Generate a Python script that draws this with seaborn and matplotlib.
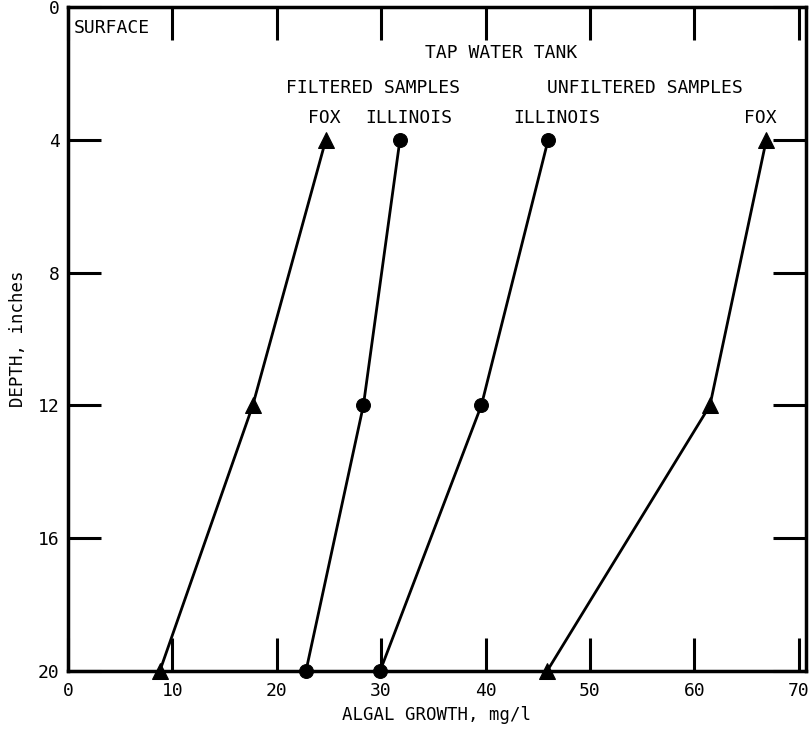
import matplotlib
matplotlib.use("Agg")
import matplotlib.pyplot as plt
import seaborn as sns
import pandas as pd

# Depth below the surface (inches) at which samples were taken
depths = [4, 12, 20]

# Algal growth (mg/l) per sample series
filtered_fox = [24.7, 17.7, 8.8]
filtered_illinois = [31.8, 28.3, 22.8]
unfiltered_illinois = [46.0, 39.6, 29.9]
unfiltered_fox = [66.9, 61.5, 45.9]

series_names = ["Filtered Fox", "Filtered Illinois", "Unfiltered Illinois", "Unfiltered Fox"]
series_values = [filtered_fox, filtered_illinois, unfiltered_illinois, unfiltered_fox]
series_markers = ["^", "o", "o", "^"]

x_ticks = [0, 10, 20, 30, 40, 50, 60, 70]
y_ticks = [0, 4, 8, 12, 16, 20]

sns.set_theme(style="white")
plt.rcParams["font.family"] = ["DejaVu Sans Mono"]

fig = plt.figure(figsize=(8.12, 7.40), dpi=100)
ax = fig.add_axes([0.0837, 0.0932, 0.9089, 0.8973])

rows = []
for name, vals in zip(series_names, series_values):
    for d, v in zip(depths, vals):
        rows.append({"series": name, "depth": d, "growth": v})
df = pd.DataFrame(rows)

for name, mk in zip(series_names, series_markers):
    sub = df[df["series"] == name]
    sns.lineplot(data=sub, x="growth", y="depth", sort=False, ax=ax,
                 color="black", linewidth=2.0, marker=mk,
                 markersize=12 if mk == "^" else 10,
                 markeredgecolor="black", markerfacecolor="black",
                 clip_on=False, zorder=5)

ax.set_xlim(0, 70.7)
ax.set_ylim(20, 0)
ax.set_xticks(x_ticks)
ax.set_yticks(y_ticks)

for s in ax.spines.values():
    s.set_color("black")
    s.set_linewidth(2.5)

ax.tick_params(axis="both", which="both", direction="in", length=24, width=2.2,
               color="black", labelsize=13, labelcolor="black",
               top=True, right=True, bottom=True, left=True)
ax.tick_params(axis="x", pad=8)
ax.tick_params(axis="y", pad=6)

ax.set_xlabel("ALGAL GROWTH, mg/l", fontsize=12.5, color="black", labelpad=4)
ax.set_ylabel("DEPTH, inches", fontsize=12.5, color="black", labelpad=8)

txt = dict(fontsize=13, color="black", va="center")
ax.text(0.6, 0.63, "SURFACE", ha="left", **txt)
ax.text(41.5, 1.38, "TAP WATER TANK", ha="center", **txt)
ax.text(29.2, 2.44, "FILTERED SAMPLES", ha="center", **txt)
ax.text(55.3, 2.44, "UNFILTERED SAMPLES", ha="center", **txt)
ax.text(24.6, 3.34, "FOX", ha="center", **txt)
ax.text(32.6, 3.34, "ILLINOIS", ha="center", **txt)
ax.text(46.8, 3.34, "ILLINOIS", ha="center", **txt)
ax.text(66.3, 3.34, "FOX", ha="center", **txt)

fig.savefig("out.png", dpi=100, facecolor="white")
